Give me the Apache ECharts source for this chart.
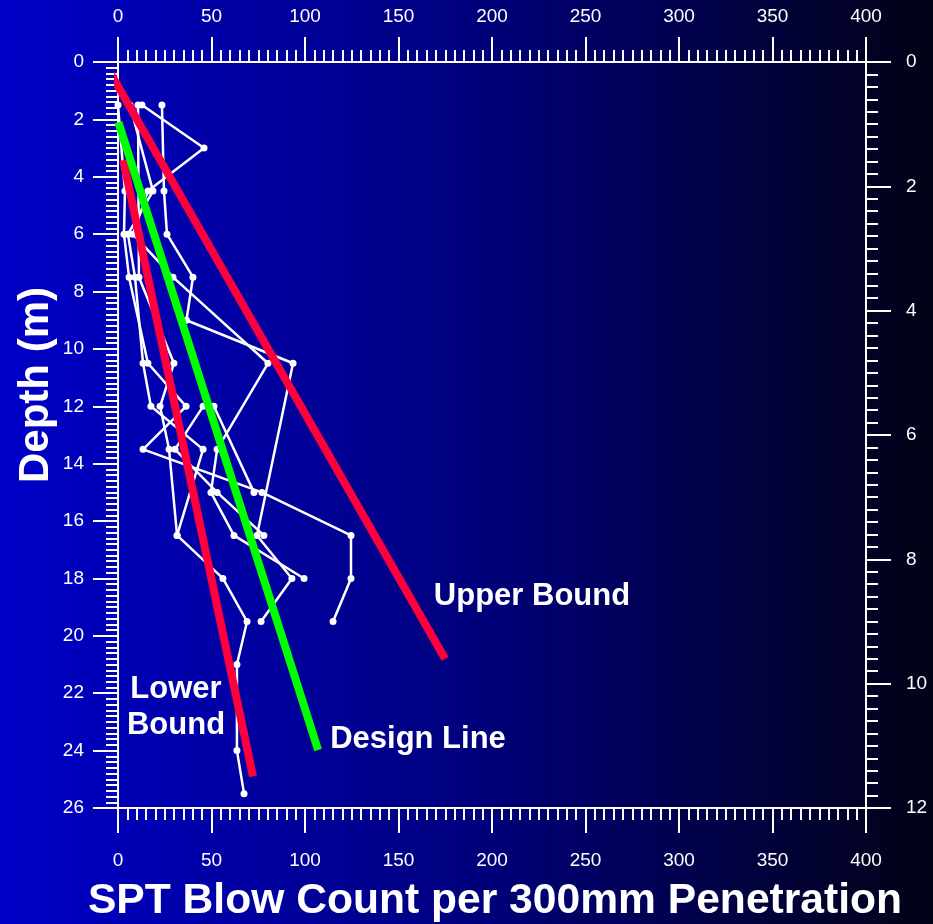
<!DOCTYPE html>
<html>
<head>
<meta charset="utf-8">
<title>SPT Blow Count vs Depth</title>
<script src="https://cdn.jsdelivr.net/npm/echarts@6/dist/echarts.min.js"></script>
<style>
  html, body { margin: 0; padding: 0; background: #000; }
  #chart { width: 933px; height: 924px; }
</style>
</head>
<body>
<div id="chart"></div>
<script>
// SPT N-values (blows per 300 mm) against depth (m), one array per borehole
const boreholeA = [[23.5, 1.5], [24.6, 4.5], [26.2, 6], [40.1, 7.5], [36.6, 9], [93.6, 10.5], [74.3, 16.5], [93, 18], [76.5, 19.5]];
const boreholeB = [[12.8, 1.5], [46, 3], [16, 4.5], [8, 6], [29.4, 7.5], [80.2, 10.5], [53, 13.5], [49.7, 15], [62, 16.5], [99.5, 18]];
const boreholeC = [[0, 1.5], [3.7, 4.5], [3.2, 6], [5.9, 7.5], [16, 10.5], [36.4, 12], [13.4, 13.5], [77, 15], [124.6, 16.5], [124.6, 18], [115, 19.5]];
const boreholeD = [[6.4, 1.5], [18.7, 4.5], [5.3, 6], [9.1, 7.5], [13.4, 10.5], [17.6, 12], [45.5, 13.5], [31.6, 16.5], [56.1, 18], [69, 19.5], [63.6, 21], [63.6, 24], [67.4, 25.5]];
const boreholeE = [[10.7, 1.5], [11.2, 7.5], [29.9, 10.5], [22.5, 12], [27.3, 13.5], [31.6, 16.5]];
const boreholeF = [[45.5, 12], [30.5, 13.5], [53, 15], [78, 16.5]];
const boreholeG = [[51.3, 12], [72.7, 15]];

// Trend lines
const upperBound = [[-5.9, 0.17], [174.9, 20.8]];
const designLine = [[0.2, 2.1], [107, 23.98]];
const lowerBound = [[2.8, 3.42], [72.2, 24.9]];

// Axis ranges
const blowRange = [0, 400, 50];
const depthRange = [0, 26, 2];
const rightRange = [0, 12, 2];

const boreholes = [boreholeA, boreholeB, boreholeC, boreholeD, boreholeE, boreholeF, boreholeG];

const FONT = '"Liberation Sans", Arial, Helvetica, sans-serif';
const WHITE = '#ffffff';

function labelStyle(margin) {
  return { color: WHITE, fontFamily: FONT, fontSize: 19, margin: margin, showMinLabel: true, showMaxLabel: true, hideOverlap: false };
}

function valueAxis(extra) {
  return Object.assign({
    type: 'value',
    axisLine: { show: true, onZero: false, lineStyle: { color: WHITE, width: 2 } },
    axisTick: { show: true, inside: false, length: 25, lineStyle: { color: WHITE, width: 2 } },
    minorTick: { show: true, splitNumber: 10, length: 12, lineStyle: { color: WHITE, width: 2 } },
    splitLine: { show: false },
    minorSplitLine: { show: false }
  }, extra);
}

const chart = echarts.init(document.getElementById('chart'), null, { renderer: 'canvas' });

const series = boreholes.map(function (pts) {
  return {
    type: 'line',
    xAxisIndex: 0,
    yAxisIndex: 0,
    data: pts,
    symbol: 'circle',
    symbolSize: 7,
    showSymbol: true,
    lineStyle: { color: WHITE, width: 2.5 },
    itemStyle: { color: WHITE },
    z: 2,
    silent: true
  };
});

function trend(pts, color) {
  return {
    type: 'line',
    xAxisIndex: 0,
    yAxisIndex: 0,
    data: pts,
    symbol: 'none',
    clip: false,
    lineStyle: { color: color, width: 8, cap: 'butt' },
    z: 5,
    silent: true
  };
}
series.push(trend(upperBound, '#ff003c'));
series.push(trend(lowerBound, '#ff003c'));
series.push(trend(designLine, '#00ff00'));

const option = {
  animation: false,
  backgroundColor: {
    type: 'linear', x: 0, y: 0, x2: 1, y2: 0,
    colorStops: [
      { offset: 0, color: '#0000c8' },
      { offset: 0.5, color: '#00007e' },
      { offset: 1, color: '#020216' }
    ]
  },
  grid: { left: 118, right: 67, top: 62, bottom: 116, containLabel: false },
  xAxis: [
    valueAxis({ position: 'bottom', min: blowRange[0], max: blowRange[1], interval: blowRange[2], axisLabel: labelStyle(43) }),
    valueAxis({ position: 'top', min: blowRange[0], max: blowRange[1], interval: blowRange[2], axisLabel: labelStyle(36) })
  ],
  yAxis: [
    valueAxis({ position: 'left', inverse: true, min: depthRange[0], max: depthRange[1], interval: depthRange[2], axisLabel: labelStyle(34) }),
    valueAxis({ position: 'right', inverse: true, min: rightRange[0], max: rightRange[1], interval: rightRange[2], axisLabel: labelStyle(40) })
  ],
  series: series,
  graphic: [
    { type: 'text', x: 532, y: 596, style: { text: 'Upper Bound', fill: WHITE, font: 'bold 31px ' + FONT, textAlign: 'center', textVerticalAlign: 'middle' }, z: 10 },
    { type: 'text', x: 418, y: 739, style: { text: 'Design Line', fill: WHITE, font: 'bold 31px ' + FONT, textAlign: 'center', textVerticalAlign: 'middle' }, z: 10 },
    { type: 'text', x: 176, y: 707, style: { text: 'Lower\nBound', fill: WHITE, font: 'bold 31px ' + FONT, textAlign: 'center', textVerticalAlign: 'middle', lineHeight: 36 }, z: 10 },
    { type: 'text', x: 36, y: 385, rotation: Math.PI / 2, style: { text: 'Depth (m)', fill: WHITE, font: 'bold 42px ' + FONT, textAlign: 'center', textVerticalAlign: 'middle' }, z: 10 },
    { type: 'text', x: 495, y: 901, style: { text: 'SPT Blow Count per 300mm Penetration', fill: WHITE, font: 'bold 42.6px ' + FONT, textAlign: 'center', textVerticalAlign: 'middle' }, z: 10 }
  ]
};

chart.setOption(option);
</script>
</body>
</html>
